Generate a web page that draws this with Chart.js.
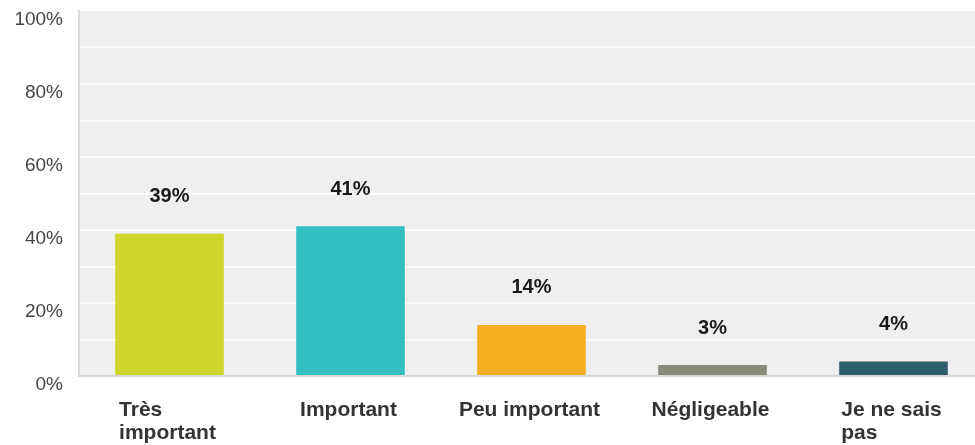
<!DOCTYPE html>
<html lang="fr">
<head>
<meta charset="utf-8">
<title>Importance</title>
<script src="https://cdn.jsdelivr.net/npm/chart.js@4"></script>
<style>
  html, body { margin: 0; padding: 0; background: #fff; overflow: hidden; }
  #wrap { position: relative; width: 985px; height: 445px; }
</style>
</head>
<body>
<div id="wrap"><canvas id="chart"></canvas></div>
<script>
const categories = [['Très', 'important'], ['Important'], ['Peu important'], ['Négligeable'], ['Je ne sais', 'pas']];
const shares = [39, 41, 14, 3, 4];
const barColors = ['#d0d52b', '#33bec0', '#f6af22', '#888b7a', '#2e5f6c'];
const yTicks = [0, 20, 40, 60, 80, 100];

const FONT = "'Liberation Sans', Arial, sans-serif";

// light grey panel behind the bars
const plotBackground = {
  id: 'plotBackground',
  beforeDraw(chart) {
    const { ctx, chartArea: a } = chart;
    ctx.save();
    ctx.fillStyle = '#efefef';
    ctx.fillRect(a.left, a.top, a.right - a.left, a.bottom - a.top);
    ctx.restore();
  },
};

// percentage above each bar
const valueLabels = {
  id: 'valueLabels',
  afterDatasetsDraw(chart) {
    const { ctx } = chart;
    const y = chart.scales.y;
    const meta = chart.getDatasetMeta(0);
    ctx.save();
    ctx.font = `bold 20px ${FONT}`;
    ctx.fillStyle = '#1a1a1a';
    ctx.textAlign = 'center';
    ctx.textBaseline = 'middle';
    meta.data.forEach((bar, i) => {
      ctx.fillText(`${shares[i]}%`, bar.x, y.getPixelForValue(shares[i]) - 37);
    });
    ctx.restore();
  },
};

// category names: lines left-aligned inside a block centred on the bar
const categoryLabels = {
  id: 'categoryLabels',
  afterDraw(chart) {
    const { ctx, chartArea } = chart;
    const x = chart.scales.x;
    ctx.save();
    ctx.font = `bold 21px ${FONT}`;
    ctx.fillStyle = '#333';
    ctx.textAlign = 'left';
    ctx.textBaseline = 'middle';
    categories.forEach((lines, i) => {
      const w = Math.max(...lines.map((l) => ctx.measureText(l).width));
      const left = x.getPixelForValue(i) - w / 2 - 2;
      lines.forEach((line, j) => {
        ctx.fillText(line, left, chartArea.bottom + 34 + j * 23.5);
      });
    });
    ctx.restore();
  },
};

new Chart(document.getElementById('chart'), {
  type: 'bar',
  data: {
    labels: categories,
    datasets: [{
      data: shares,
      backgroundColor: barColors,
      borderWidth: 0,
      categoryPercentage: 1,
      barPercentage: 0.6,
    }],
  },
  options: {
    responsive: true,
    maintainAspectRatio: false,
    animation: false,
    layout: { padding: { top: 11, right: 1, bottom: 69, left: 0 } },
    plugins: { legend: { display: false }, tooltip: { enabled: false } },
    scales: {
      x: {
        offset: true,
        grid: { display: false },
        ticks: { display: false },
        border: { color: '#d6d6d6', width: 2 },
        afterFit(scale) {
          scale.height = 0;
          scale.paddingLeft = 0;
          scale.paddingRight = 0;
        },
      },
      y: {
        min: 0,
        max: 100,
        afterFit(scale) {
          scale.width = 79;
          scale.paddingTop = 0;
          scale.paddingBottom = 0;
        },
        ticks: {
          stepSize: 10,
          padding: 16,
          labelOffset: 9,
          color: '#454545',
          font: { family: FONT, size: 19 },
          callback: (v) => (yTicks.includes(v) ? `${v}%` : ''),
        },
        grid: {
          drawTicks: false,
          lineWidth: 2,
          color: (c) => (c.tick && (c.tick.value === 100 || c.tick.value === 0) ? 'rgba(0,0,0,0)' : '#fbfbfb'),
        },
        border: { color: '#dadada', width: 2 },
      },
    },
  },
  plugins: [plotBackground, valueLabels, categoryLabels],
});
</script>
</body>
</html>
